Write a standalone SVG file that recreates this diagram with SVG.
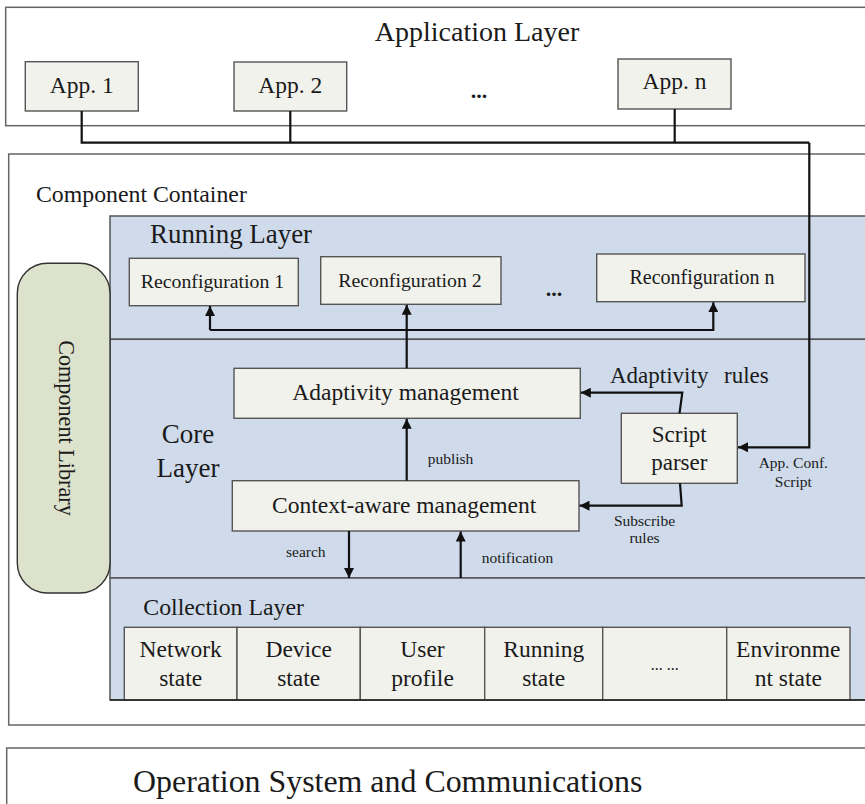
<svg xmlns="http://www.w3.org/2000/svg" width="865" height="804" viewBox="0 0 865 804">
<defs>
<style>
text{font-family:"Liberation Serif","Times New Roman",serif;fill:#1a1a1a}
.frame{fill:#fff;stroke:#666;stroke-width:1.5}
.layer{fill:#cfdaeb;stroke:#555;stroke-width:1.5}
.box{fill:#f2f2ec;stroke:#555;stroke-width:1.4}
.lib{fill:#dde2cc;stroke:#333;stroke-width:1.4}
.conn{fill:none;stroke:#111;stroke-width:2.2}
.arr{fill:none;stroke:#111;stroke-width:2.2;marker-end:url(#ah)}
.c{text-anchor:middle}
.s{font-size:15.5px}
</style>
<marker id="ah" viewBox="0 0 10 10" refX="10" refY="5" markerWidth="10" markerHeight="10" markerUnits="userSpaceOnUse" orient="auto">
<path d="M0,0 L10,5 L0,10 z" fill="#111"/>
</marker>
</defs>

<g id="application-layer">
<rect class="frame" x="5.7" y="7.3" width="880" height="118.4"/>
<text class="c" x="477" y="40.7" font-size="28">Application Layer</text>
</g>
<g id="app1"><rect class="box" x="25.3" y="61.7" width="113" height="49.3"/><text class="c" x="81.7" y="93.3" font-size="23.5">App. 1</text></g>
<g id="app2"><rect class="box" x="234" y="62" width="112.7" height="49"/><text class="c" x="290.3" y="93.3" font-size="23.5">App. 2</text></g>
<g id="app-dots"><text class="c" x="479" y="98" font-size="22" font-weight="bold">...</text></g>
<g id="appn"><rect class="box" x="618" y="59" width="113" height="50"/><text class="c" x="674.5" y="89" font-size="23.5">App. n</text></g>

<g id="component-container">
<rect class="frame" x="8.7" y="154" width="880" height="571"/>
<text x="36" y="202" font-size="23.8">Component Container</text>
</g>

<g id="running-layer">
<rect class="layer" x="110" y="216" width="780" height="123.3"/>
<text x="150" y="243" font-size="26.9">Running Layer</text>
</g>
<g id="core-layer">
<rect class="layer" x="110" y="339.3" width="780" height="238.7"/>
<text class="c" x="188" y="442.7" font-size="27">Core</text>
<text class="c" x="188" y="476.7" font-size="27">Layer</text>
</g>
<g id="collection-layer">
<rect class="layer" x="110" y="578" width="780" height="122"/>
<text x="143.3" y="615" font-size="23.8">Collection Layer</text>
</g>

<g id="component-library">
<rect class="lib" x="17.3" y="263.3" width="92.7" height="329.7" rx="30" ry="30"/>
<text class="c" transform="translate(59,428) rotate(90)" font-size="22.2">Component Library</text>
</g>

<g id="reconf1"><rect class="box" x="129.3" y="258.3" width="169" height="47.4"/><text class="c" x="212.5" y="287.7" font-size="19.8">Reconfiguration 1</text></g>
<g id="reconf2"><rect class="box" x="320.7" y="256.7" width="180.3" height="47.6"/><text class="c" x="410" y="286.7" font-size="19.8">Reconfiguration 2</text></g>
<g id="reconf-dots"><text class="c" x="554" y="296" font-size="22" font-weight="bold">...</text></g>
<g id="reconfn"><rect class="box" x="596.7" y="254" width="208.3" height="47.7"/><text class="c" x="702" y="284" font-size="20">Reconfiguration n</text></g>

<g id="adaptivity-management"><rect class="box" x="234" y="368.3" width="346.3" height="50"/><text class="c" x="405.5" y="400" font-size="23.5">Adaptivity management</text></g>
<g id="context-aware-management"><rect class="box" x="232.3" y="480.7" width="346.7" height="50.3"/><text class="c" x="404.2" y="512.7" font-size="23.5">Context-aware management</text></g>
<g id="script-parser"><rect class="box" x="621.3" y="413.3" width="116" height="70"/><text class="c" x="679.3" y="441.7" font-size="23">Script</text><text class="c" x="679.3" y="470" font-size="23">parser</text></g>

<g id="cells">
<g id="cell-network"><rect class="box" x="124.3" y="627.3" width="112.7" height="72.7"/><text class="c" x="180.7" y="656.7" font-size="23.5">Network</text><text class="c" x="180.7" y="686" font-size="23.5">state</text></g>
<g id="cell-device"><rect class="box" x="237" y="627.3" width="123.3" height="72.7"/><text class="c" x="298.7" y="656.7" font-size="23.5">Device</text><text class="c" x="298.7" y="686" font-size="23.5">state</text></g>
<g id="cell-user"><rect class="box" x="360.3" y="627.3" width="124.4" height="72.7"/><text class="c" x="422.5" y="656.7" font-size="23.5">User</text><text class="c" x="422.5" y="686" font-size="23.5">profile</text></g>
<g id="cell-running"><rect class="box" x="484.7" y="627.3" width="118" height="72.7"/><text class="c" x="543.7" y="656.7" font-size="23.5">Running</text><text class="c" x="543.7" y="686" font-size="23.5">state</text></g>
<g id="cell-dots"><rect class="box" x="602.7" y="627.3" width="124" height="72.7"/><text class="c" x="664.7" y="670" font-size="16">... ...</text></g>
<g id="cell-env"><rect class="box" x="726.7" y="627.3" width="123.3" height="72.7"/><text class="c" x="788.3" y="656.7" font-size="23.5">Environme</text><text class="c" x="788.3" y="686" font-size="23.5">nt state</text></g>
<line x1="110" y1="700" x2="865" y2="700" stroke="#222" stroke-width="1.6"/>
</g>

<g id="os-layer">
<rect class="frame" x="6.7" y="748" width="880" height="80"/>
<text x="133" y="791.7" font-size="31.9">Operation System and Communications</text>
</g>

<g id="connectors">
<polyline class="conn" points="81.7,111 81.7,142.7 809.3,142.7"/>
<line class="conn" x1="290.3" y1="111" x2="290.3" y2="142.7"/>
<line class="conn" x1="674.7" y1="109" x2="674.7" y2="142.7"/>
<polyline class="arr" points="809.3,142.7 809.3,447.3 738,447.3"/>
<polyline class="arr" points="210,330 210,306"/>
<polyline class="arr" points="210,330 713.3,330 713.3,302.2"/>
<polyline class="arr" points="406.7,368.3 406.7,304.8"/>
<polyline class="arr" points="406.7,480.7 406.7,418.8"/>
<polyline class="arr" points="679.5,413.3 682.3,392.7 580.8,392.7"/>
<polyline class="arr" points="680,483.3 681.7,505.7 579.5,505.7"/>
<polyline class="arr" points="349,531 349,578"/>
<polyline class="arr" points="460.7,578 460.7,531.5"/>
</g>

<g id="labels">
<text x="610" y="382.7" font-size="23">Adaptivity<tspan x="724">rules</tspan></text>
<text class="s" x="427.7" y="464">publish</text>
<text class="s c" x="793.3" y="468.3">App. Conf.</text>
<text class="s c" x="793.3" y="487.3">Script</text>
<text class="s c" x="644.5" y="526">Subscribe</text>
<text class="s c" x="644.5" y="543.3">rules</text>
<text class="s" x="286" y="557">search</text>
<text class="s" x="481.7" y="563.3">notification</text>
</g>
</svg>
